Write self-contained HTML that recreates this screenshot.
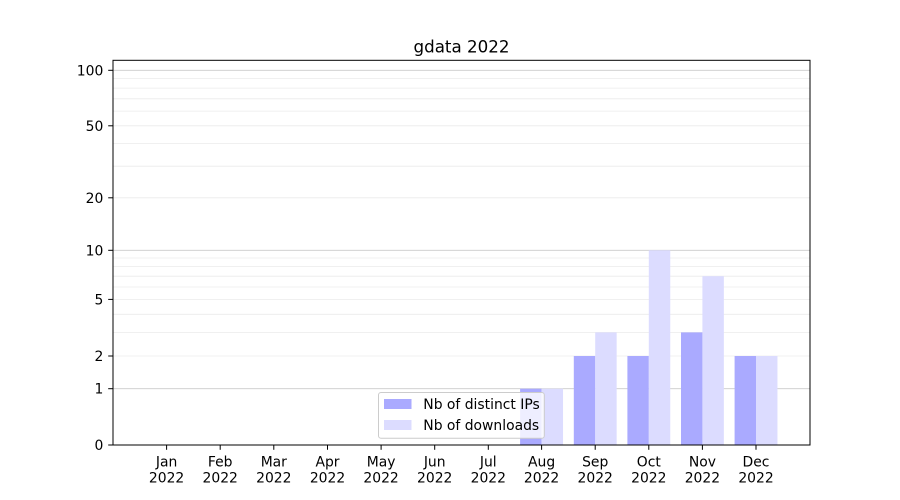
<!DOCTYPE html>
<html>
<head>
<meta charset="utf-8">
<style>
html,body{margin:0;padding:0;background:#fff;}
svg{display:block;}
text{font-family:"DejaVu Sans","Liberation Sans",sans-serif;fill:#000;}
</style>
</head>
<body>
<svg width="900" height="500" viewBox="0 0 900 500" xmlns="http://www.w3.org/2000/svg">
<rect x="0" y="0" width="900" height="500" fill="#fff"/>
<!-- minor gridlines -->
<g stroke="#ebebeb" stroke-width="0.8">
<line x1="113" x2="810" y1="356.0" y2="356.0"/>
<line x1="113" x2="810" y1="332.4" y2="332.4"/>
<line x1="113" x2="810" y1="314.3" y2="314.3"/>
<line x1="113" x2="810" y1="299.4" y2="299.4"/>
<line x1="113" x2="810" y1="287.0" y2="287.0"/>
<line x1="113" x2="810" y1="276.2" y2="276.2"/>
<line x1="113" x2="810" y1="266.6" y2="266.6"/>
<line x1="113" x2="810" y1="258.0" y2="258.0"/>
<line x1="113" x2="810" y1="197.8" y2="197.8"/>
<line x1="113" x2="810" y1="166.2" y2="166.2"/>
<line x1="113" x2="810" y1="143.5" y2="143.5"/>
<line x1="113" x2="810" y1="125.8" y2="125.8"/>
<line x1="113" x2="810" y1="111.1" y2="111.1"/>
<line x1="113" x2="810" y1="98.8" y2="98.8"/>
<line x1="113" x2="810" y1="88.1" y2="88.1"/>
<line x1="113" x2="810" y1="78.6" y2="78.6"/>
</g>
<!-- major gridlines -->
<g stroke="#cccccc" stroke-width="0.9">
<line x1="113" x2="810" y1="388.7" y2="388.7"/>
<line x1="113" x2="810" y1="250.3" y2="250.3"/>
<line x1="113" x2="810" y1="70.3" y2="70.3"/>
</g>
<!-- bars -->
<g>
<rect x="520.1" y="388.7" width="21.45" height="56.3" fill="#aaaaff"/>
<rect x="541.6" y="388.7" width="21.45" height="56.3" fill="#dcdcff"/>
<rect x="573.8" y="356.0" width="21.45" height="89.0" fill="#aaaaff"/>
<rect x="595.2" y="332.4" width="21.45" height="112.6" fill="#dcdcff"/>
<rect x="627.4" y="356.0" width="21.45" height="89.0" fill="#aaaaff"/>
<rect x="648.8" y="250.3" width="21.45" height="194.7" fill="#dcdcff"/>
<rect x="681.0" y="332.4" width="21.45" height="112.6" fill="#aaaaff"/>
<rect x="702.4" y="276.2" width="21.45" height="168.8" fill="#dcdcff"/>
<rect x="734.6" y="356.0" width="21.45" height="89.0" fill="#aaaaff"/>
<rect x="756.0" y="356.0" width="21.45" height="89.0" fill="#dcdcff"/>
</g>
<!-- axes frame -->
<rect x="113" y="60.3" width="697" height="384.7" fill="none" stroke="#000" stroke-width="1"/>
<!-- y ticks -->
<g stroke="#000" stroke-width="1">
<line x1="108.2" x2="113" y1="445" y2="445"/>
<line x1="108.2" x2="113" y1="388.7" y2="388.7"/>
<line x1="108.2" x2="113" y1="356.0" y2="356.0"/>
<line x1="108.2" x2="113" y1="299.4" y2="299.4"/>
<line x1="108.2" x2="113" y1="250.3" y2="250.3"/>
<line x1="108.2" x2="113" y1="197.8" y2="197.8"/>
<line x1="108.2" x2="113" y1="125.8" y2="125.8"/>
<line x1="108.2" x2="113" y1="70.3" y2="70.3"/>
</g>
<g font-size="13.9" text-anchor="end">
<text x="103.3" y="450">0</text>
<text x="103.3" y="393.7">1</text>
<text x="103.3" y="361.0">2</text>
<text x="103.3" y="304.4">5</text>
<text x="103.3" y="255.3">10</text>
<text x="103.3" y="202.8">20</text>
<text x="103.3" y="130.8">50</text>
<text x="103.3" y="75.3">100</text>
</g>
<!-- x ticks -->
<g stroke="#000" stroke-width="1">
<line x1="166.6" x2="166.6" y1="445" y2="449.8"/>
<line x1="220.2" x2="220.2" y1="445" y2="449.8"/>
<line x1="273.8" x2="273.8" y1="445" y2="449.8"/>
<line x1="327.5" x2="327.5" y1="445" y2="449.8"/>
<line x1="381.1" x2="381.1" y1="445" y2="449.8"/>
<line x1="434.7" x2="434.7" y1="445" y2="449.8"/>
<line x1="488.3" x2="488.3" y1="445" y2="449.8"/>
<line x1="541.6" x2="541.6" y1="445" y2="449.8"/>
<line x1="595.2" x2="595.2" y1="445" y2="449.8"/>
<line x1="648.8" x2="648.8" y1="445" y2="449.8"/>
<line x1="702.4" x2="702.4" y1="445" y2="449.8"/>
<line x1="756.0" x2="756.0" y1="445" y2="449.8"/>
</g>
<g font-size="13.9" text-anchor="middle">
<text x="166.6" y="466.5">Jan</text><text x="166.6" y="482.3">2022</text>
<text x="220.2" y="466.5">Feb</text><text x="220.2" y="482.3">2022</text>
<text x="273.8" y="466.5">Mar</text><text x="273.8" y="482.3">2022</text>
<text x="327.5" y="466.5">Apr</text><text x="327.5" y="482.3">2022</text>
<text x="381.1" y="466.5">May</text><text x="381.1" y="482.3">2022</text>
<text x="434.7" y="466.5">Jun</text><text x="434.7" y="482.3">2022</text>
<text x="488.3" y="466.5">Jul</text><text x="488.3" y="482.3">2022</text>
<text x="541.6" y="466.5">Aug</text><text x="541.6" y="482.3">2022</text>
<text x="595.2" y="466.5">Sep</text><text x="595.2" y="482.3">2022</text>
<text x="648.8" y="466.5">Oct</text><text x="648.8" y="482.3">2022</text>
<text x="702.4" y="466.5">Nov</text><text x="702.4" y="482.3">2022</text>
<text x="756.0" y="466.5">Dec</text><text x="756.0" y="482.3">2022</text>
</g>
<!-- title -->
<text x="461.5" y="52.5" font-size="16.7" text-anchor="middle">gdata 2022</text>
<!-- legend -->
<rect x="378.5" y="392.5" width="165.8" height="45.8" rx="2.5" ry="2.5" fill="#fff" fill-opacity="0.8" stroke="#cccccc" stroke-width="1"/>
<rect x="384" y="399" width="27.5" height="10" fill="#aaaaff"/>
<rect x="384" y="420" width="27.5" height="10" fill="#dcdcff"/>
<g font-size="13.9">
<text x="423.3" y="409">Nb of distinct IPs</text>
<text x="423.3" y="430">Nb of downloads</text>
</g>
</svg>
</body>
</html>
